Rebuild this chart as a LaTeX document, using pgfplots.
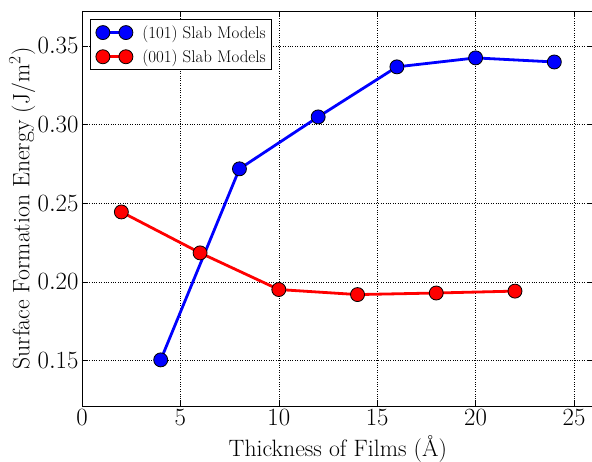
\documentclass[border=0pt]{standalone}
\usepackage{pgfplots}
\pgfplotsset{compat=1.18}
\begin{document}
\begin{tikzpicture}
\begin{axis}[
  scale only axis,
  width=511.7bp, height=395bp,
  xmin=0, xmax=26, ymin=0.1212, ymax=0.3722,
  xtick={0,5,10,15,20,25},
  ytick={0.15,0.20,0.25,0.30,0.35},
  yticklabel style={/pgf/number format/fixed,/pgf/number format/fixed zerofill,/pgf/number format/precision=2},
  tick label style={font=\fontsize{24}{28}\selectfont},
  label style={font=\fontsize{23.8}{28}\selectfont},
  tick align=inside, tick style={black, semithick}, major tick length=6bp,
  grid=major, grid style={black, dotted, thin},
  axis line style={black, semithick},
  xlabel={Thickness of Films (\AA)},
  ylabel={Surface Formation Energy (J/m$^2$)},
  xlabel style={at={(axis description cs:0.5,-0.1266)}, anchor=base},
  ylabel style={at={(axis description cs:-0.103,0.5)}, anchor=base},
  legend style={at={(0,1)}, anchor=north west, xshift=8bp, yshift=-8bp,
    font=\fontsize{17}{20}\selectfont, draw=black, line width=1bp, row sep=6bp,
    inner xsep=4bp, inner ysep=4bp},
  legend cell align=left,
  legend image code/.code={\path (-7bp,0bp) (36bp,0bp);\draw[#1] plot coordinates {(0bp,0bp) (23bp,0bp)};},
]
\addplot[blue, line width=2.8bp, mark=*, mark size=7bp, mark options={fill=blue, draw=black, line width=0.8bp}]
 coordinates {(4,0.1505) (8,0.2719) (12,0.3049) (16,0.3367) (20,0.3424) (24,0.3398)};
\addlegendentry{(101) Slab Models}
\addplot[red, line width=2.8bp, mark=*, mark size=7bp, mark options={fill=red, draw=black, line width=0.8bp}]
 coordinates {(2,0.2445) (6,0.2185) (10,0.1952) (14,0.1920) (18,0.1930) (22,0.1942)};
\addlegendentry{(001) Slab Models}
\end{axis}
\pgfresetboundingbox
\path (-82bp,-56bp) rectangle (510bp,406bp);
\end{tikzpicture}
\end{document}
